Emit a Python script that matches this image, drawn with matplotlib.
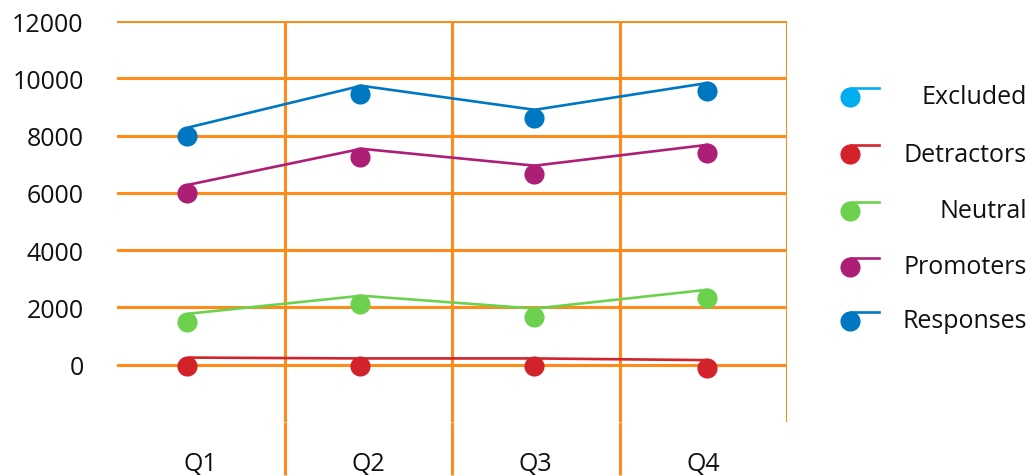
"""
Quarterly NPS response breakdown, recreated as a line chart.
"""

import matplotlib.pyplot as plt
import matplotlib.transforms as mtransforms
from matplotlib.lines import Line2D
import numpy as np

# ---- data -------------------------------------------------------------
quarters = ['Q1', 'Q2', 'Q3', 'Q4']
series_names = ['Excluded', 'Detractors', 'Neutral', 'Promoters', 'Responses']
excluded = [np.nan, np.nan, np.nan, np.nan]
detractors = [-30, -60, -60, -120]
neutral = [1500, 2130, 1680, 2340]
promoters = [6000, 7260, 6670, 7400]
responses = [8000, 9460, 8620, 9560]
y_ticks = [0, 2000, 4000, 6000, 8000, 10000, 12000]

colors = {
    'Excluded': '#00AEEF',
    'Detractors': '#D2232A',
    'Neutral': '#6CD24E',
    'Promoters': '#AD1F77',
    'Responses': '#0077C1',
}
grid_color = '#FF8C1A'

plt.rcParams['font.family'] = ['Open Sans', 'DejaVu Sans']

W, H, DPI = 1035, 477, 100
fig = plt.figure(figsize=(W / DPI, H / DPI), dpi=DPI)
rect = [117 / W, (H - 423) / H, (787 - 117) / W, (423 - 22) / H]
ax = fig.add_axes(rect)

# category frame: grid cells and labels
ax.set_xlim(-0.5, 3.5)
ax.set_ylim(-2000, 12000)
for yv in y_ticks:
    ax.axhline(yv, color=grid_color, lw=2.2, zorder=1)
for xv in [0.5, 1.5, 2.5, 3.5]:
    ax.axvline(xv, color=grid_color, lw=2.2, zorder=1)
for s in ax.spines.values():
    s.set_visible(False)

ax.set_yticks(y_ticks)
ax.set_yticklabels([str(v) for v in y_ticks])
ax.tick_params(axis='y', length=0, pad=24, labelsize=18, labelcolor='#111111')

x = np.arange(len(quarters))
ax.set_xticks(x)
ax.set_xticklabels(quarters)
ax.set_xticks([0.5, 1.5, 2.5], minor=True)
ax.tick_params(axis='x', which='major', length=0, pad=21, labelsize=18,
               labelcolor='#111111')
ax.tick_params(axis='x', which='minor', length=38, width=2.2,
               color=grid_color, direction='out')

# the points in the original run on a slightly wider spacing than the cells
dax = fig.add_axes(rect, sharey=ax)
dax.set_facecolor('none')
dax.axis('off')
dax.set_xlim(-0.404, 3.462)

values = {
    'Excluded': excluded,
    'Detractors': detractors,
    'Neutral': neutral,
    'Promoters': promoters,
    'Responses': responses,
}

# the lines sit a little above the markers in the original
line_shift = mtransforms.ScaledTranslation(1 / DPI, 8 / DPI, fig.dpi_scale_trans)
for name in series_names:
    vals = np.array(values[name], dtype=float)
    dax.plot(x, vals, color=colors[name], lw=1.9, zorder=3,
             transform=dax.transData + line_shift, solid_capstyle='butt')
    dax.plot(x, vals, 'o', color=colors[name], ms=14.5, mec='none', zorder=4)

# legend drawn by hand: dot with a short line stub above it
rows_y = [98, 155, 212, 268, 322]
for name, ry in zip(series_names, rows_y):
    fy = (H - ry) / H
    fig.add_artist(Line2D([851 / W, 879 / W], [(H - ry + 9) / H] * 2,
                          color=colors[name], lw=1.9, transform=fig.transFigure))
    fig.add_artist(Line2D([850 / W], [fy], marker='o', ms=14.5, mec='none',
                          color=colors[name], transform=fig.transFigure))
    fig.text(1027 / W, fy, name, ha='right', va='center', fontsize=18,
             color='#111111')

fig.savefig('out.png', dpi=DPI)
